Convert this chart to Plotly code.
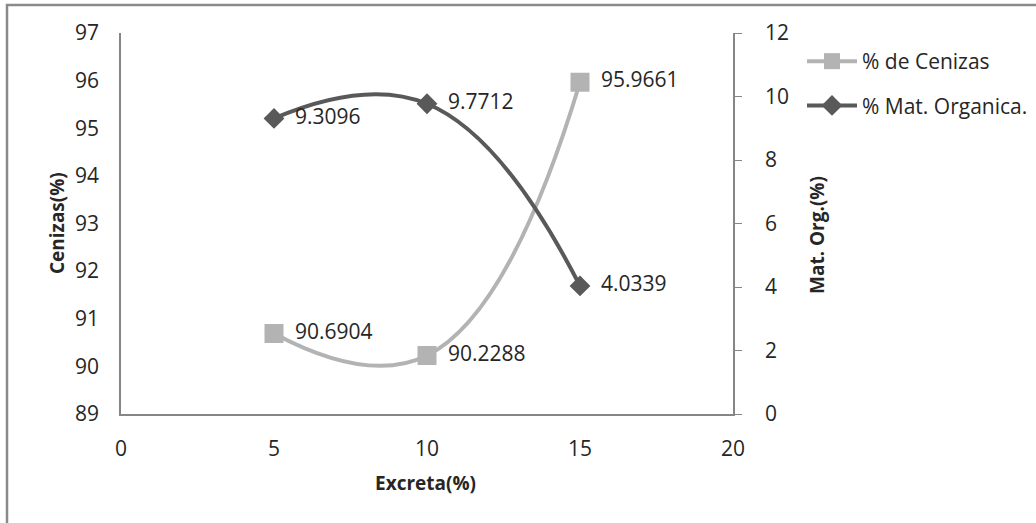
import plotly.graph_objects as go

# ---- data ----
excreta = [5, 10, 15]
cenizas = [90.6904, 90.2288, 95.9661]
mat_org = [9.3096, 9.7712, 4.0339]
cenizas_labels = ["90.6904", "90.2288", "95.9661"]
mat_org_labels = ["9.3096", "9.7712", "4.0339"]
x_ticks = [0, 5, 10, 15, 20]
y1_ticks = [89, 90, 91, 92, 93, 94, 95, 96, 97]
y2_ticks = [0, 2, 4, 6, 8, 10, 12]

W, H = 1036, 523
L, R, T, B = 121, 733, 33, 414  # plot area pixel edges
pw, ph = R - L, B - T

def px_x(p):
    return (p - L) / pw

def px_y(p):
    return (B - p) / ph

FONT = "Open Sans"
TXT = "#262626"
AX = "#868686"
C_LIGHT = "#b3b3b3"
C_DARK = "#595959"

fig = go.Figure()

fig.add_trace(go.Scatter(
    x=excreta, y=cenizas, name="% de Cenizas", mode="lines+markers",
    line=dict(color=C_LIGHT, width=4, shape="spline", smoothing=1.3),
    marker=dict(symbol="square", size=19, color=C_LIGHT),
    legendgroup="a", yaxis="y", cliponaxis=False,
))
fig.add_trace(go.Scatter(
    x=excreta, y=mat_org, name="% Mat. Organica.", mode="lines+markers",
    line=dict(color=C_DARK, width=4, shape="spline", smoothing=1.3),
    marker=dict(symbol="diamond", size=16, color=C_DARK),
    legendgroup="b", yaxis="y2", cliponaxis=False,
))
fig.add_trace(go.Scatter(
    x=excreta, y=cenizas, mode="markers+text", text=cenizas_labels,
    marker=dict(size=32, opacity=0),
    textposition="middle right", textfont=dict(family=FONT, size=21, color=TXT),
    showlegend=False, yaxis="y", cliponaxis=False, hoverinfo="skip",
))
fig.add_trace(go.Scatter(
    x=excreta, y=mat_org, mode="markers+text", text=mat_org_labels,
    marker=dict(size=32, opacity=0),
    textposition="middle right", textfont=dict(family=FONT, size=21, color=TXT),
    showlegend=False, yaxis="y2", cliponaxis=False, hoverinfo="skip",
))

tickfont = dict(family=FONT, size=21, color=TXT)

fig.update_layout(
    width=W, height=H,
    margin=dict(l=L, r=W - R, t=T, b=H - B, pad=0, autoexpand=False),
    paper_bgcolor="white", plot_bgcolor="white",
    font=dict(family=FONT, color=TXT),
    xaxis=dict(range=[0, 20], tickvals=x_ticks, showgrid=False, zeroline=False,
               showline=True, linecolor=AX, linewidth=1.5, ticks="",
               tickfont=tickfont, ticklabelstandoff=15),
    yaxis=dict(range=[89, 97], tickvals=y1_ticks, showgrid=False, zeroline=False,
               showline=True, linecolor=AX, linewidth=1.5, ticks="",
               tickfont=tickfont, ticklabelstandoff=16),
    yaxis2=dict(range=[0, 12], tickvals=y2_ticks, overlaying="y", side="right",
                showgrid=False, zeroline=False, showline=True, linecolor=AX,
                linewidth=1.5, ticks="outside", ticklen=7, tickcolor=AX,
                tickfont=tickfont, ticklabelstandoff=19),
    legend=dict(x=px_x(802), y=px_y(41), xanchor="left", yanchor="top",
                font=dict(family=FONT, size=21, color=TXT),
                traceorder="grouped", tracegroupgap=14, itemwidth=50,
                bgcolor="rgba(0,0,0,0)"),
    showlegend=True,
)

title_font = dict(family=FONT, size=19, color=TXT)
fig.add_annotation(text="<b>Excreta(%)</b>", x=px_x(425), y=px_y(483),
                   xref="paper", yref="paper", showarrow=False, font=title_font,
                   xanchor="center", yanchor="middle")
fig.add_annotation(text="<b>Cenizas(%)</b>", x=px_x(57), y=px_y(223),
                   xref="paper", yref="paper", showarrow=False, font=title_font,
                   textangle=-90, xanchor="center", yanchor="middle")
fig.add_annotation(text="<b>Mat. Org.(%)</b>", x=px_x(817), y=px_y(235),
                   xref="paper", yref="paper", showarrow=False, font=title_font,
                   textangle=-90, xanchor="center", yanchor="middle")

# outer chart border (only top and left edges visible in frame)
fig.add_shape(type="rect", xref="paper", yref="paper",
              x0=px_x(7), y0=px_y(5), x1=px_x(1100), y1=px_y(600),
              line=dict(color="#8a8a8a", width=2.5), layer="below")

fig.write_html("out.html")
